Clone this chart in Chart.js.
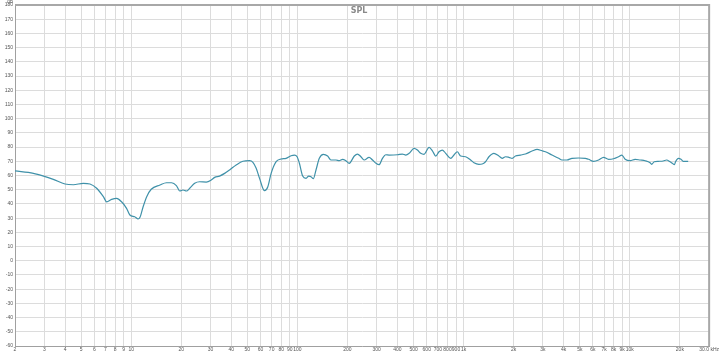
<!DOCTYPE html>
<html>
<head>
<meta charset="utf-8">
<script src="https://cdn.jsdelivr.net/npm/chart.js@4"></script>
<style>
  html, body { margin: 0; padding: 0; background: #fff; }
  #wrap { width: 720px; height: 354px; }
</style>
</head>
<body>
<div id="wrap"><canvas id="chart"></canvas></div>
<script>
// --- DATA ---
const freqHz = [
  2.0, 2.58, 2.97, 3.40, 4.0, 4.49, 5.15, 5.65, 6.20, 6.80,
  7.12, 7.63, 8.17, 8.75, 9.38, 9.82, 10.5, 11.0, 11.3, 11.8,
  12.4, 13.2, 14.9, 16.3, 17.5, 18.7, 19.6, 20.5, 21.5, 22.5,
  24.1, 25.8, 28.3, 30.3, 31.8, 34.0, 36.5, 39.1, 42.8, 47.0,
  51.5, 54.0, 56.5, 59.2, 63.4, 66.4, 69.5, 74.5, 79.8, 85.5,
  91.6, 96.0, 99.6, 102.8, 107.6, 112.7, 117, 120.8, 124.7, 129.4,
  135.5, 143.2, 152, 159, 170.6, 178.6, 187, 195.8, 205, 220,
  230, 241, 252, 270, 283, 297, 310, 325, 340, 356,
  400, 428, 449, 470, 504, 527, 552, 578, 620, 649,
  680, 711, 745, 780, 836, 875, 916, 960, 1028, 1102,
  1154, 1236, 1294, 1355, 1420, 1521, 1630, 1706, 1787, 1871,
  1959, 2051, 2198, 2355, 2582, 2767, 2965, 3105, 3404, 3733,
  3908, 4188, 4488, 4920, 5396, 5650, 6054, 6487, 6950, 7448,
  7980, 8551, 8954, 9376, 10046, 10765, 11535, 12360, 13244, 13520,
  14030, 14826, 15886, 16636, 17460, 18031, 18535, 18838, 19590, 20320,
  20940, 22440
];
const splDb = [
  63.2, 61.5, 59.6, 57.3, 54.0, 53.5, 54.5, 54.0, 51.0, 45.1,
  41.5, 43.2, 43.9, 41.5, 36.9, 32.2, 31.0, 29.4, 30.6, 38.0,
  45.1, 50.3, 53.3, 54.9, 54.9, 52.9, 49.1, 49.8, 49.1, 51.0,
  54.5, 55.6, 55.4, 56.8, 58.7, 59.6, 61.5, 63.9, 67.4, 70.0,
  70.4, 69.3, 65.1, 58.0, 49.3, 52.1, 61.5, 69.7, 71.6, 72.1,
  73.9, 74.4, 73.2, 68.6, 59.6, 58.0, 59.6, 59.1, 57.7, 63.9,
  72.1, 74.9, 73.7, 70.9, 70.9, 70.4, 71.4, 70.4, 68.6, 73.7,
  75.1, 73.2, 70.9, 72.8, 70.9, 68.6, 67.6, 72.1, 74.6, 74.4,
  74.6, 75.1, 74.4, 75.6, 79.1, 77.9, 75.6, 74.9, 79.8, 77.4,
  73.7, 76.7, 77.9, 75.6, 72.1, 74.4, 76.7, 73.7, 73.2, 70.9,
  69.0, 67.9, 68.1, 69.7, 73.2, 75.6, 73.7, 72.1, 73.2, 72.8,
  72.1, 73.7, 74.4, 75.1, 77.2, 78.4, 77.4, 76.7, 74.4, 72.1,
  70.9, 70.9, 72.1, 72.3, 72.1, 71.4, 70.0, 70.9, 72.8, 71.4,
  71.8, 73.2, 74.4, 71.4, 70.4, 71.4, 70.9, 70.4, 69.0, 67.9,
  69.7, 70.0, 70.2, 70.9, 69.7, 68.6, 67.6, 69.7, 72.1, 71.4,
  70.0, 70.0
];

// axis ticks
const xTickValues = [2, 3, 4, 5, 6, 7, 8, 9, 10, 20, 30, 40, 50, 60, 70, 80, 90, 100,
  200, 300, 400, 500, 600, 700, 800, 900, 1000, 2000, 3000, 4000, 5000, 6000, 7000,
  8000, 9000, 10000, 20000, 30000];
const xTickLabels = ['2', '3', '4', '5', '6', '7', '8', '9', '10', '20', '30', '40', '50',
  '60', '70', '80', '90', '100', '200', '300', '400', '500', '600', '700', '800', '900',
  '1k', '2k', '3k', '4k', '5k', '6k', '7k', '8k', '9k', '10k', '20k', '30.0 kHz'];
const yMin = -60;
const yMax = 180;
const yStep = 10;

const points = freqHz.map((f, i) => ({ x: f, y: splDb[i] }));

// --- frame, title and unit drawn over the plot ---
const overlayText = {
  id: 'overlayText',
  afterDraw(chart) {
    const { ctx, chartArea } = chart;
    ctx.save();
    // frame: heavier on top and right like the original
    ctx.strokeStyle = '#a8a8a8';
    ctx.lineWidth = 2;
    ctx.beginPath();
    ctx.moveTo(chartArea.left, chartArea.top);
    ctx.lineTo(chartArea.right, chartArea.top);
    ctx.lineTo(chartArea.right, chartArea.bottom);
    ctx.stroke();

    ctx.fillStyle = '#8a8a8a';
    ctx.font = 'bold 8px "DejaVu Sans"';
    ctx.textAlign = 'center';
    ctx.textBaseline = 'middle';
    ctx.fillText('SPL', (chartArea.left + chartArea.right) / 2 - 3, 11);
    ctx.font = '5px "Liberation Sans"';
    ctx.fillStyle = '#666';
    ctx.textAlign = 'right';
    ctx.fillText('dB', 13, 2);
    ctx.restore();
  }
};

// --- CHART ---
new Chart(document.getElementById('chart'), {
  type: 'line',
  data: {
    datasets: [{
      label: 'SPL',
      data: points,
      borderColor: '#3f91a9',
      borderWidth: 1.2,
      pointRadius: 0,
      fill: false,
      cubicInterpolationMode: 'monotone'
    }]
  },
  options: {
    responsive: true,
    maintainAspectRatio: false,
    animation: false,
    layout: { padding: { top: 5, right: 7, left: 0, bottom: 0 } },
    plugins: {
      legend: { display: false },
      tooltip: { enabled: false }
    },
    scales: {
      x: {
        type: 'logarithmic',
        min: 2,
        max: 30000,
        afterBuildTicks: (scale) => {
          scale.ticks = xTickValues.map(v => ({ value: v }));
        },
        afterFit: (scale) => { scale.height = 8; },
        grid: { color: '#dcdcdc', lineWidth: 1, drawTicks: false },
        border: { color: '#a0a0a0' },
        ticks: {
          autoSkip: false,
          maxRotation: 0,
          padding: 1,
          color: '#555',
          font: { family: 'Liberation Sans', size: 5 },
          callback: (value) => {
            const i = xTickValues.indexOf(value);
            return i >= 0 ? xTickLabels[i] : '';
          }
        }
      },
      y: {
        min: yMin,
        max: yMax,
        afterFit: (scale) => { scale.width = 15; },
        grid: { color: '#dcdcdc', lineWidth: 1, drawTicks: false },
        border: { color: '#a0a0a0' },
        ticks: {
          stepSize: yStep,
          autoSkip: false,
          padding: 2,
          color: '#555',
          font: { family: 'Liberation Sans', size: 5 }
        }
      }
    }
  },
  plugins: [overlayText]
});
</script>
</body>
</html>
